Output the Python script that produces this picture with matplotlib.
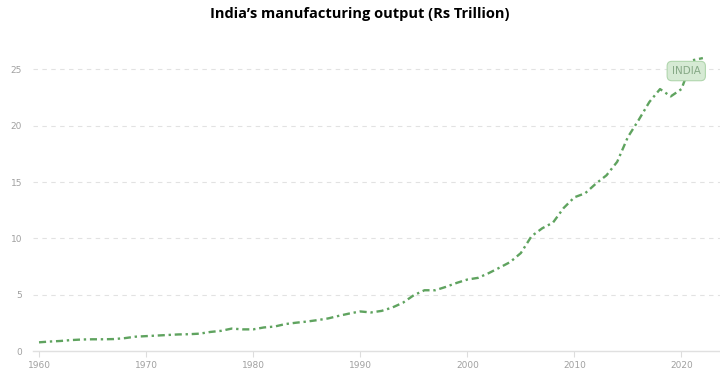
import matplotlib.pyplot as plt
import numpy as np

years = np.arange(1960, 2023)
output = [
    0.78, 0.85, 0.90, 0.98, 1.03, 1.05, 1.05, 1.07, 1.15, 1.28,
    1.33, 1.38, 1.43, 1.48, 1.50, 1.55, 1.70, 1.80, 2.00, 1.93,
    1.93, 2.10, 2.18, 2.40, 2.52, 2.62, 2.75, 2.90, 3.13, 3.34,
    3.52, 3.43, 3.57, 3.87, 4.30, 4.96, 5.40, 5.40, 5.70, 6.05,
    6.35, 6.50, 6.92, 7.40, 7.90, 8.70, 10.2, 10.9, 11.4, 12.7,
    13.65, 14.0, 14.85, 15.6, 16.8, 19.0, 20.5, 22.1, 23.25, 22.6,
    23.25, 25.8, 26.0,
]
x_ticks = [1960, 1970, 1980, 1990, 2000, 2010, 2020]
y_ticks = [0, 5, 10, 15, 20, 25]

line_color = "#5fa35f"
grid_color = "#e2e2e2"
label_color = "#a0a0a0"

fig = plt.figure(figsize=(7.2, 3.85), dpi=100)
ax = fig.add_axes([0.046, 0.088, 0.954, 0.808])

ax.plot(years, output, color=line_color, linewidth=1.7,
        linestyle=(0, (3.0, 1.6, 1.0, 1.6)))

ax.set_xlim(1959.45, 2023.6)
ax.set_ylim(0, 27.6)
ax.set_xticks(x_ticks)
ax.set_yticks(y_ticks)

for y in y_ticks[1:]:
    ax.axhline(y, color=grid_color, linewidth=0.8, linestyle=(0, (4, 4)), zorder=0)

for side in ["top", "right", "left"]:
    ax.spines[side].set_visible(False)
ax.spines["bottom"].set_color("#e0e0e0")
ax.spines["bottom"].set_linewidth(1.0)

ax.tick_params(axis="x", colors="#dddddd", labelcolor=label_color,
               labelsize=6.5, length=4, width=0.8, pad=3)
ax.tick_params(axis="y", length=0, labelcolor=label_color, labelsize=6.5, pad=8)

ax.text(2020.45, 24.85, "INDIA", color="#86a886", fontsize=7.5,
        ha="center", va="center",
        bbox=dict(boxstyle="round,pad=0.45", facecolor="#d6ead4",
                  edgecolor="#b0d6ad", linewidth=0.8))

fig.text(0.5, 0.963, "India\u2019s manufacturing output (Rs Trillion)",
         ha="center", va="center", fontsize=10.5, fontweight="bold",
         family="Open Sans")

fig.savefig("out.png", dpi=100)
